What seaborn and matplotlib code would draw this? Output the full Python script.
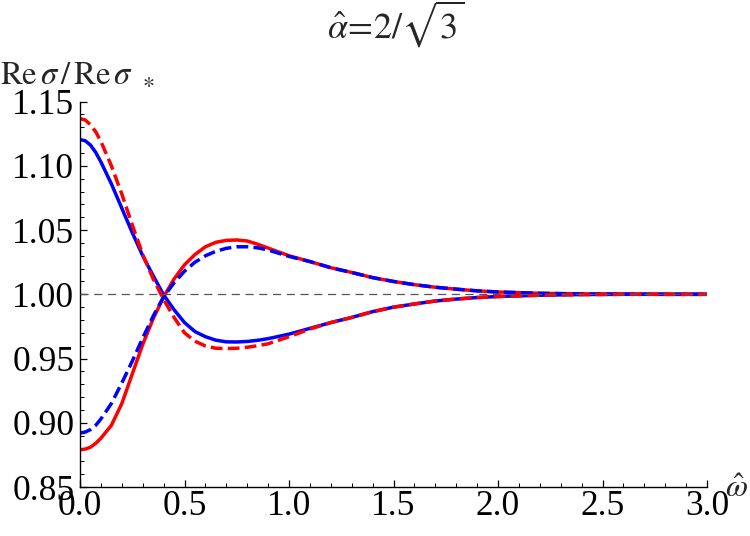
import pandas as pd
import matplotlib
matplotlib.use("Agg")
import matplotlib.pyplot as plt
from matplotlib.ticker import MultipleLocator, FormatStrFormatter
import seaborn as sns

# values
omega = [0.0, 0.025, 0.05, 0.075, 0.1, 0.15, 0.2, 0.25, 0.3, 0.35, 0.4,
         0.45, 0.5, 0.55, 0.6, 0.65, 0.7, 0.75, 0.8, 0.85, 0.9, 1.0, 1.1,
         1.2, 1.3, 1.4, 1.5, 1.6, 1.7, 1.8, 1.9, 2.0, 2.2, 2.4, 2.6, 2.8, 3.0]

red_solid = [0.879, 0.8795, 0.881, 0.884, 0.888, 0.898, 0.915, 0.938, 0.961,
             0.981, 0.998, 1.012, 1.023, 1.031, 1.037, 1.0405, 1.042, 1.0423,
             1.0415, 1.039, 1.036, 1.030, 1.0255, 1.0207, 1.017, 1.013, 1.010,
             1.0075, 1.0055, 1.004, 1.0027, 1.0018, 1.0008, 1.0003, 1.0001,
             1.0, 1.0]

blue_dashed = [0.892, 0.8928, 0.8947, 0.898, 0.903, 0.915, 0.931, 0.948,
               0.966, 0.983, 0.998, 1.009, 1.018, 1.025, 1.030, 1.0335, 1.0358,
               1.037, 1.037, 1.0362, 1.0345, 1.0295, 1.0255, 1.0207, 1.017,
               1.013, 1.010, 1.0075, 1.0055, 1.004, 1.0027, 1.0018, 1.0008,
               1.0003, 1.0001, 1.0, 1.0]

blue_solid = [1.1205, 1.1195, 1.1162, 1.1105, 1.103, 1.086, 1.067, 1.048,
              1.030, 1.0145, 0.9995, 0.988, 0.978, 0.971, 0.967, 0.9643, 0.963,
              0.9629, 0.9633, 0.9642, 0.9655, 0.969, 0.9735, 0.978, 0.982,
              0.9865, 0.990, 0.9925, 0.9948, 0.9963, 0.9975, 0.9983, 0.9993,
              0.9998, 1.0, 1.0, 1.0]

red_dashed = [1.1368, 1.1357, 1.132, 1.1265, 1.119, 1.100, 1.078, 1.054,
              1.031, 1.012, 0.996, 0.982, 0.970, 0.9635, 0.9598, 0.958, 0.9578,
              0.958, 0.9588, 0.960, 0.9615, 0.967, 0.973, 0.978, 0.982, 0.9865,
              0.990, 0.9925, 0.9948, 0.9963, 0.9975, 0.9983, 0.9993, 0.9998,
              1.0, 1.0, 1.0]

curve_names = ["red solid", "blue solid", "blue dashed", "red dashed"]
x_range = [0.0, 3.0]
y_range = [0.85, 1.15]


def build_frame():
    parts = []
    for name, vals in zip(curve_names,
                          [red_solid, blue_solid, blue_dashed, red_dashed]):
        parts.append(pd.DataFrame({"omega": omega, "ratio": vals,
                                   "curve": name}))
    return pd.concat(parts, ignore_index=True)


def main():
    sns.set_style("ticks")
    plt.rcParams["font.family"] = ["Liberation Serif", "DejaVu Serif"]
    plt.rcParams["mathtext.fontset"] = "stix"

    data = build_frame()
    fig = plt.figure(figsize=(7.5, 5.36), dpi=100)
    ax = fig.add_axes([0.1067, 0.0914, 0.836, 0.719])

    palette = {"red solid": "#ff0000", "blue solid": "#0000ff",
               "blue dashed": "#0000ff", "red dashed": "#ff0000"}
    dashes = {"red solid": "", "blue solid": "",
              "blue dashed": (3.4, 1.5), "red dashed": (3.4, 1.5)}
    sns.lineplot(data=data, x="omega", y="ratio", hue="curve", style="curve",
                 hue_order=curve_names, style_order=curve_names,
                 palette=palette, dashes=dashes, linewidth=2.5,
                 legend=False, ax=ax, zorder=2)

    ax.axhline(1.0, color="#555555", lw=0.9, ls=(0, (6.5, 4.5)), zorder=3)

    ax.set_xlim(x_range)
    ax.set_ylim(y_range)
    ax.set_xlabel("")
    ax.set_ylabel("")
    sns.despine(ax=ax)
    for s in ["left", "bottom"]:
        ax.spines[s].set_color("black")
        ax.spines[s].set_linewidth(1.0)

    ax.xaxis.set_major_locator(MultipleLocator(0.5))
    ax.xaxis.set_minor_locator(MultipleLocator(0.1))
    ax.yaxis.set_major_locator(MultipleLocator(0.05))
    ax.yaxis.set_minor_locator(MultipleLocator(0.01))
    ax.xaxis.set_major_formatter(FormatStrFormatter("%.1f"))
    ax.yaxis.set_major_formatter(FormatStrFormatter("%.2f"))
    ax.tick_params(which="major", direction="in", length=5, width=0.9,
                   color="black", labelsize=25.5, labelcolor="black")
    ax.tick_params(which="minor", direction="in", length=3, width=0.7,
                   color="black")
    ax.tick_params(axis="x", which="major", pad=2)
    ax.tick_params(axis="y", which="major", pad=4)

    fig.text(396 / 750, 1 - 24 / 536, r"$\hat{\alpha}\!=\!2/\sqrt{3}$",
             ha="center", va="center", fontsize=26)
    fig.text(0.0, 1 - 75 / 536,
             r"$\mathrm{Re}\,\sigma\,/\,\mathrm{Re}\,\sigma_{\;\;\ast}$",
             ha="left", va="center", fontsize=23.5)
    fig.text(725 / 750, 1 - 497 / 536, r"$\hat{\omega}$",
             ha="left", va="baseline", fontsize=23)

    fig.savefig("out.png", dpi=100)


if __name__ == "__main__":
    main()
